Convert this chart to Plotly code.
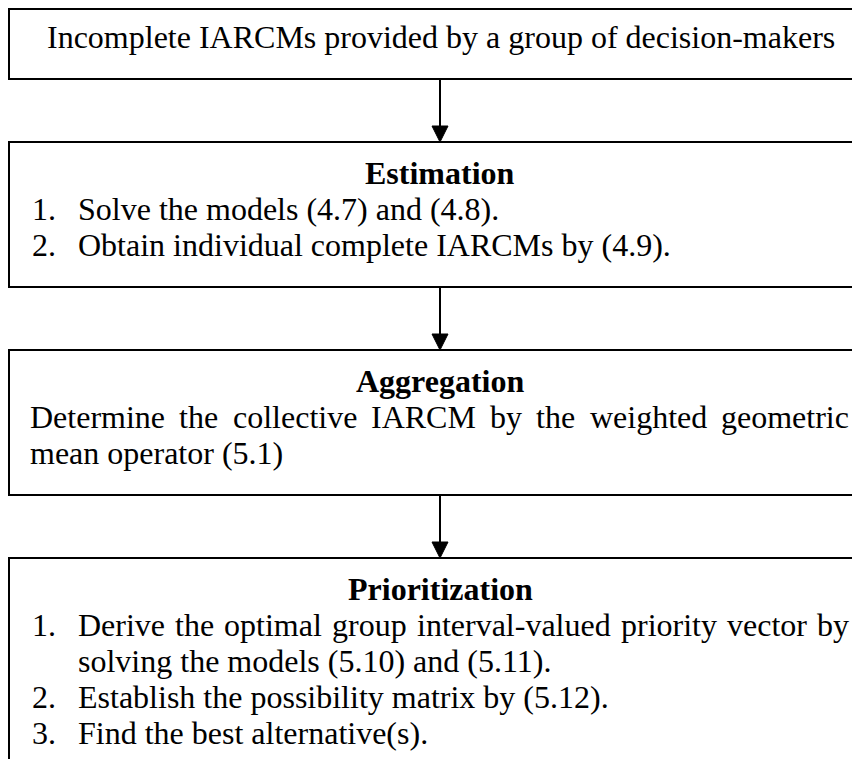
import plotly.graph_objects as go

# ---------------- content ----------------
top_text = "Incomplete IARCMs provided by a group of decision-makers"

est_title = "Estimation"
est_nums = ["1.", "2."]
est_items = ["Solve the models (4.7) and (4.8).",
             "Obtain individual complete IARCMs by (4.9)."]

agg_title = "Aggregation"
agg_lines = ["Determine the collective IARCM by the weighted geometric",
             "mean operator (5.1)"]
agg_justify = [True, False]

pri_title = "Prioritization"
pri_nums = ["1.", "", "2.", "3."]
pri_lines = ["Derive the optimal group interval-valued priority vector by",
             "solving the models (5.10) and (5.11).",
             "Establish the possibility matrix by (5.12).",
             "Find the best alternative(s)."]
pri_justify = [True, False, False, False]

# ---------------- layout constants (page pixel coordinates) ----------------
PAGE_W, PAGE_H = 860, 759
OFF = 8  # default body margin of the page
W, H = PAGE_W - OFF, PAGE_H - OFF
FS = 32
FONT = "Liberation Serif, Times New Roman, serif"
BOX_L, BOX_R = 9, 880
CX = 440
LINE = 36
TXT_L = 29
NUM_L = 31
IND_L = 77
TXT_R = 848
# boxes: (top, bottom)
boxes = [(9, 79), (142, 287), (350, 495), (558, 800)]

# Times widths (per 1000 em) for justification
TW = {' ': 250, '(': 333, ')': 333, '-': 333, '.': 250, ',': 250}
for d in "0123456789":
    TW[d] = 500
TW.update(dict(A=722, B=667, C=667, D=722, E=611, F=556, G=722, H=722, I=333, J=389,
               K=722, L=611, M=889, N=722, O=722, P=556, Q=722, R=667, S=556, T=611,
               U=722, V=722, W=944, X=722, Y=722, Z=611))
TW.update(dict(a=444, b=500, c=444, d=500, e=444, f=333, g=500, h=500, i=278, j=278,
               k=500, l=278, m=778, n=500, o=500, p=500, q=500, r=333, s=389, t=278,
               u=500, v=500, w=722, x=500, y=500, z=444))


def wwidth(word):
    return sum(TW.get(ch, 500) for ch in word) * FS / 1000.0


fig = go.Figure()
annots = []
shapes = []


def add_text(x, baseline, text, anchor="left", bold=False):
    t = "<b>%s</b>" % text if bold else text
    annots.append(dict(x=x, y=baseline - 10, xref="x", yref="y", text=t, showarrow=False,
                       xanchor=anchor, yanchor="middle", borderpad=0,
                       font=dict(family=FONT, size=FS, color="black")))


def add_justified(x0, x1, baseline, text):
    words = text.split(" ")
    widths = [wwidth(w) for w in words]
    gap = (x1 - x0 - sum(widths)) / (len(words) - 1)
    x = x0
    for w, wd in zip(words, widths):
        add_text(x, baseline, w)
        x += wd + gap


# boxes
for (t, b) in boxes:
    shapes.append(dict(type="rect", xref="x", yref="y", x0=BOX_L, x1=BOX_R, y0=t, y1=b,
                       line=dict(color="black", width=2), fillcolor="rgba(0,0,0,0)"))

# arrows
AH, AW = 16, 8
for i in range(3):
    y0 = boxes[i][1]
    y1 = boxes[i + 1][0]
    shapes.append(dict(type="line", xref="x", yref="y", x0=CX, x1=CX, y0=y0, y1=y1 - AH + 1,
                       line=dict(color="black", width=2)))
    shapes.append(dict(type="path", xref="x", yref="y",
                       path="M %f %f L %f %f L %f %f Z" % (CX - AW, y1 - AH, CX + AW, y1 - AH, CX, y1),
                       fillcolor="black", line=dict(color="black", width=1)))

# box 1
add_text(CX + 1, 47, top_text, anchor="center")

# box 2
t2 = boxes[1][0]
add_text(CX, t2 + 41, est_title, anchor="center", bold=True)
for k, (n, s) in enumerate(zip(est_nums, est_items)):
    bl = t2 + 41 + LINE * (k + 1)
    add_text(NUM_L, bl, n)
    add_text(IND_L, bl, s)

# box 3
t3 = boxes[2][0]
add_text(CX, t3 + 41, agg_title, anchor="center", bold=True)
for k, (s, j) in enumerate(zip(agg_lines, agg_justify)):
    bl = t3 + 41 + LINE * (k + 1)
    if j:
        add_justified(TXT_L, TXT_R, bl, s)
    else:
        add_text(TXT_L, bl, s)

# box 4
t4 = boxes[3][0]
add_text(CX, t4 + 41, pri_title, anchor="center", bold=True)
for k, (n, s, j) in enumerate(zip(pri_nums, pri_lines, pri_justify)):
    bl = t4 + 41 + LINE * (k + 1)
    if n:
        add_text(NUM_L, bl, n)
    if j:
        add_justified(IND_L, TXT_R, bl, s)
    else:
        add_text(IND_L, bl, s)

fig.update_layout(
    width=W, height=H,
    margin=dict(l=0, r=0, t=0, b=0),
    paper_bgcolor="white", plot_bgcolor="white",
    xaxis=dict(range=[OFF, PAGE_W], visible=False, fixedrange=True),
    yaxis=dict(range=[PAGE_H, OFF], visible=False, fixedrange=True),
    shapes=shapes, annotations=annots, showlegend=False,
)

fig.write_html("out.html")
